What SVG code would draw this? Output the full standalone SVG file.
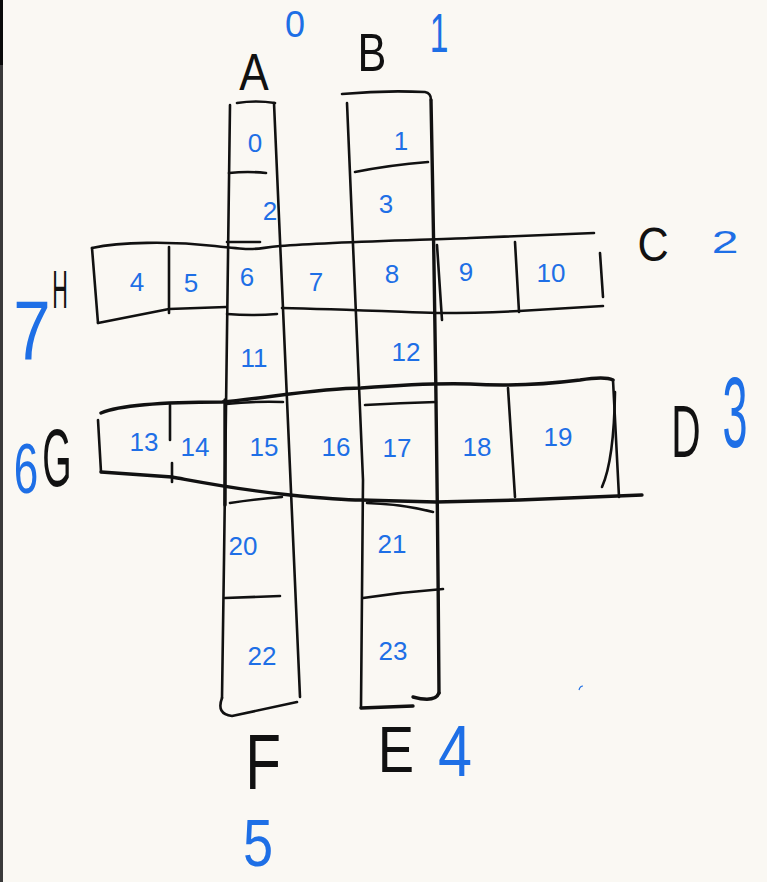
<svg xmlns="http://www.w3.org/2000/svg" width="767" height="882" viewBox="0 0 767 882">
<style>
.ink{fill:none;stroke:#111;stroke-width:2.6;stroke-linecap:round;stroke-linejoin:round}
.heavy{stroke-width:3.4}
.num{fill:#1e6fe6;font-family:"Liberation Sans",Arial,sans-serif;font-size:26px;text-anchor:middle;dominant-baseline:central}
.big{fill:#1e6fe6;font-family:"Liberation Sans",Arial,sans-serif;text-anchor:middle;dominant-baseline:central}
.let{fill:#111;font-family:"Liberation Sans",Arial,sans-serif;text-anchor:middle;dominant-baseline:central}
</style>
<rect x="0" y="0" width="767" height="882" fill="#faf8f3"/>
<rect x="0" y="0" width="3" height="882" fill="#3a3a3a"/>
<rect x="0" y="0" width="3" height="65" fill="#0a0a0a"/>

<g id="strip-A">
  <path class="ink" d="M237,103 Q256,100 275,103"/>
  <path class="ink" d="M230,105 C228,250 226,400 224,560 L222,698"/>
  <path class="ink heavy" d="M225,400 L225,505"/>
  <path class="ink" d="M274,103 Q288,400 300,697"/>
  <path class="ink" d="M229,173 Q248,171 266,173"/>
  <path class="ink" d="M227,242 L260,242"/>
  <path class="ink" d="M227,314 Q252,316 277,314"/>
  <path class="ink" d="M226,404 Q255,401 283,402"/>
  <path class="ink" d="M230,503 Q256,499 282,497"/>
  <path class="ink" d="M225,598 Q252,597 280,596"/>
  <path class="ink" d="M222,698 Q216,714 232,716 L297,702"/>
</g>

<g id="strip-B">
  <path class="ink" d="M342,94 Q385,90 425,92 Q431,93 431,100"/>
  <path class="ink" d="M347,103 Q357,330 363,480 L361,708"/>
  <path class="ink heavy" d="M431,100 Q437,400 439,693"/>
  <path class="ink" d="M437,245 L442,320"/>
  <path class="ink" d="M355,172 Q390,165 428,162"/>
  <path class="ink" d="M365,405 Q400,403 436,402"/>
  <path class="ink" d="M367,503 Q402,504 433,512"/>
  <path class="ink" d="M363,598 Q403,592 443,589"/>
  <path class="ink heavy" d="M361,708 L413,706"/>
  <path class="ink heavy" d="M413,697 Q435,703 439,693"/>
</g>

<g id="strip-C">
  <path class="ink" d="M92,248 C120,242 170,241 215,246 S250,249 280,246 C330,242 420,240 470,238 L594,233"/>
  <path class="ink" d="M92,248 L98,323"/>
  <path class="ink" d="M98,323 L169,309 L226,307"/>
  <path class="ink" d="M282,308 C330,309 380,311 437,313 C470,313 500,312 519,311 L603,306"/>
  <path class="ink" d="M169,247 L169,313"/>
  <path class="ink" d="M515,242 L519,312"/>
  <path class="ink" d="M600,253 L603,297"/>
</g>

<g id="strip-D">
  <path class="ink heavy" d="M101,413 C120,405 170,402 222,402 C260,399 320,388 361,388 C400,385 436,383 470,384 C500,386 540,385 580,380 Q605,376 613,380"/>
  <path class="ink" d="M98,420 L101,472"/>
  <path class="ink heavy" d="M101,472 L172,477 C200,482 240,490 290,495 C320,498 345,500 361,500 L436,502 L519,500 L642,495"/>
  <path class="ink" d="M170,405 L170,440"/>
  <path class="ink" d="M172,463 L172,482"/>
  <path class="ink" d="M508,388 L515,497"/>
  <path class="ink" d="M613,380 L619,497"/>
  <path class="ink" d="M615,392 Q614,460 602,487"/>
</g>

<g id="cells">
  <text class="num" x="255" y="143">0</text>
  <text class="num" x="401" y="141">1</text>
  <text class="num" x="270" y="211">2</text>
  <text class="num" x="386" y="204">3</text>
  <text class="num" x="137" y="282">4</text>
  <text class="num" x="191" y="283">5</text>
  <text class="num" x="247" y="277">6</text>
  <text class="num" x="316" y="282">7</text>
  <text class="num" x="392" y="274">8</text>
  <text class="num" x="466" y="272">9</text>
  <text class="num" x="551" y="273">10</text>
  <text class="num" x="254" y="358">11</text>
  <text class="num" x="406" y="352">12</text>
  <text class="num" x="144" y="442">13</text>
  <text class="num" x="195" y="447">14</text>
  <text class="num" x="264" y="447">15</text>
  <text class="num" x="336" y="447">16</text>
  <text class="num" x="397" y="448">17</text>
  <text class="num" x="477" y="447">18</text>
  <text class="num" x="558" y="437">19</text>
  <text class="num" x="243" y="546">20</text>
  <text class="num" x="392" y="544">21</text>
  <text class="num" x="262" y="656">22</text>
  <text class="num" x="393" y="651">23</text>
</g>

<g id="labels">
  <text class="let" font-size="52" transform="translate(254,72) scale(0.85,1)">A</text>
  <text class="big" font-size="36" x="295" y="24">0</text>
  <text class="let" font-size="54" transform="translate(372,52) scale(0.8,1)">B</text>
  <text class="big" font-size="56" transform="translate(439,33) scale(0.6,1)">1</text>
  <text class="let" font-size="48" transform="translate(653,245) scale(0.9,1)">C</text>
  <text class="big" font-size="32" transform="translate(725,242) scale(1.5,1)">2</text>
  <text class="let" font-size="74" transform="translate(686,432) scale(0.55,1)">D</text>
  <text class="big" font-size="100" transform="translate(735,412) scale(0.45,1)">3</text>
  <text class="let" font-size="64" transform="translate(396,750) scale(0.85,1)">E</text>
  <text class="big" font-size="72" transform="translate(455,751) scale(0.85,1)">4</text>
  <text class="let" font-size="78" transform="translate(263,762) scale(0.75,1)">F</text>
  <text class="big" font-size="66" transform="translate(258,843) scale(0.82,1)">5</text>
  <text class="let" font-size="82" transform="translate(57,458) scale(0.46,1)">G</text>
  <text class="big" font-size="70" transform="translate(26,468) scale(0.63,1)">6</text>
  <text class="let" font-size="54" transform="translate(60,290) scale(0.4,1)">H</text>
  <text class="big" font-size="84" transform="translate(32,330) scale(0.8,1)">7</text>
</g>

<path d="M579,690 Q580,686 583,686" fill="none" stroke="#1e6fe6" stroke-width="1.2"/>
</svg>
